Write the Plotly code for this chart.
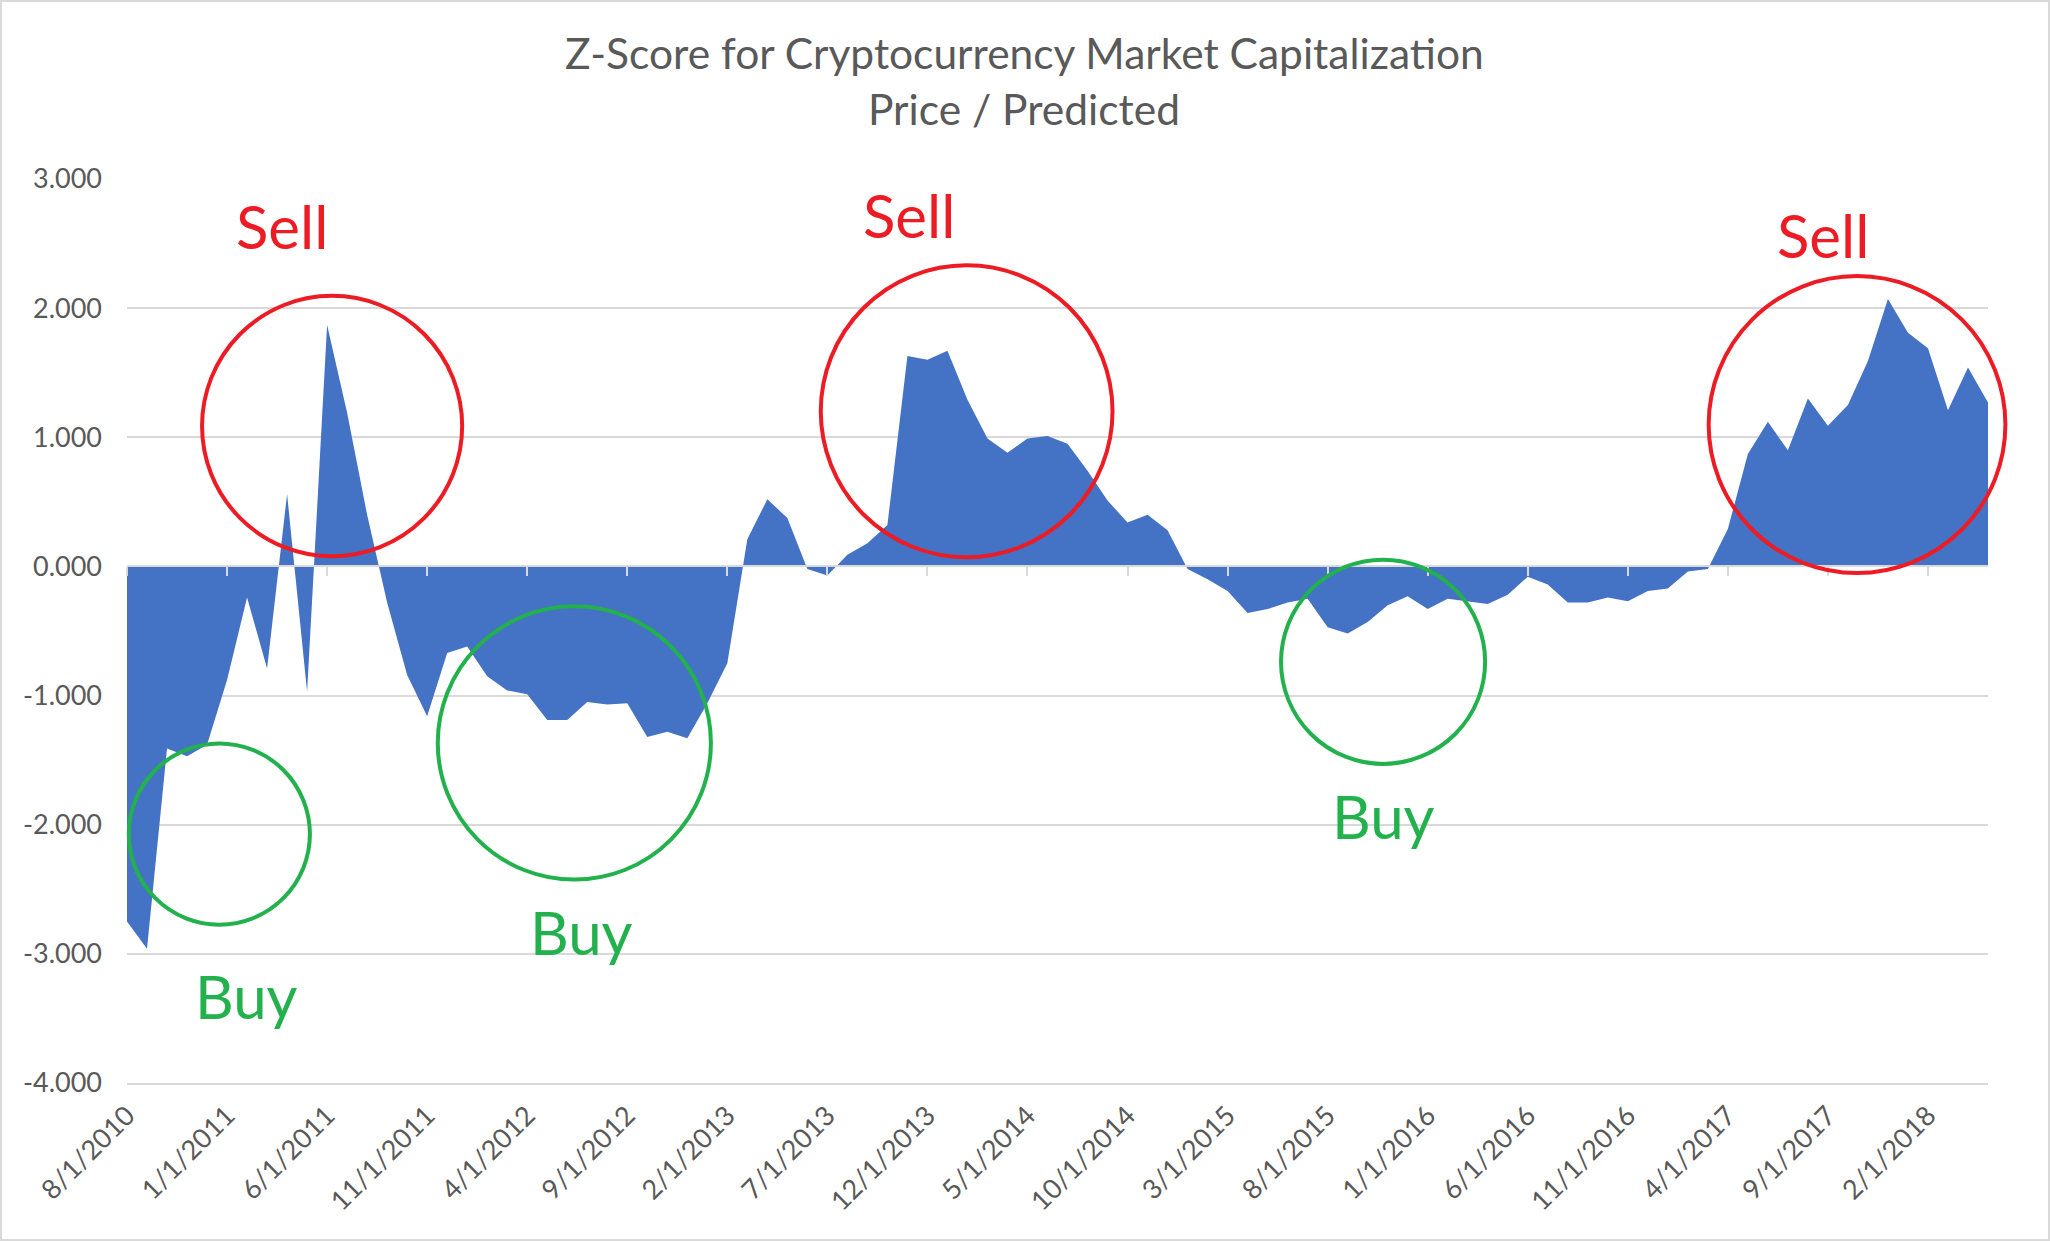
import plotly.graph_objects as go

# ---------------- data ----------------
categories = [f"{(7 + i) % 12 + 1}/1/{2010 + (7 + i) // 12}" for i in range(94)]

zscore = [
    -2.75, -2.96, -1.41, -1.47, -1.38, -0.88, -0.24, -0.79, 0.56, -0.97,
    1.87, 1.19, 0.40, -0.28, -0.84, -1.16, -0.67, -0.62, -0.85, -0.96,
    -0.99, -1.19, -1.19, -1.05, -1.07, -1.06, -1.32, -1.28, -1.33, -1.06,
    -0.75, 0.21, 0.52, 0.375, -0.02, -0.07, 0.09, 0.18, 0.32, 1.63,
    1.60, 1.67, 1.29, 0.99, 0.88, 0.99, 1.01, 0.95, 0.74, 0.51,
    0.34, 0.40, 0.28, -0.02, -0.10, -0.19, -0.36, -0.33, -0.28, -0.25,
    -0.47, -0.52, -0.43, -0.30, -0.23, -0.33, -0.25, -0.27, -0.29, -0.22,
    -0.08, -0.14, -0.28, -0.28, -0.24, -0.27, -0.19, -0.17, -0.04, -0.02,
    0.29, 0.87, 1.12, 0.90, 1.30, 1.09, 1.25, 1.59, 2.07, 1.81,
    1.69, 1.21, 1.54, 1.27,
]

x_tick_labels = categories[::5]
y_tick_vals = [-4, -3, -2, -1, 0, 1, 2, 3]
y_tick_text = ["-4.000", "-3.000", "-2.000", "-1.000", "0.000", "1.000", "2.000", "3.000"]

title_line1 = "Z-Score for Cryptocurrency Market Capitalization"
title_line2 = "Price / Predicted"

# signal annotations: text, category index, value
signal_text = ["Sell", "Sell", "Sell", "Buy", "Buy", "Buy"]
signal_x = [7.77, 39.07, 84.77, 5.97, 22.69, 62.8]
signal_y = [2.633, 2.718, 2.563, -3.33, -2.829, -1.93]

# circles (category index / value extents)
circle_x0 = [3.75, 34.67, 79.04, 0.09, 15.53, 57.67]
circle_x1 = [16.75, 49.25, 93.87, 9.14, 29.18, 67.87]
circle_y0 = [0.079, 0.071, -0.051, -2.774, -2.425, -1.529]
circle_y1 = [2.095, 2.332, 2.248, -1.371, -0.309, 0.052]

RED = "#ED1C24"
GREEN = "#22B14C"
signal_color = [RED, RED, RED, GREEN, GREEN, GREEN]

# ---------------- layout constants ----------------
W, H = 2050, 1241
ML, MR, MT, MB = 127, 62, 179, 158
PW, PH = W - ML - MR, H - MT - MB
YMIN, YMAX = -4, 3
XMAX = len(categories) - 1
FONT = "Lato, Carlito, Calibri, sans-serif"
TXT = "#595959"
GRID = "#D9D9D9"

def px_to_paper_x(px):
    return (px - ML) / PW

def px_to_paper_y(py):
    return (H - MB - py) / PH

fig = go.Figure()
fig.add_trace(go.Scatter(
    x=categories, y=zscore, mode="lines", fill="tozeroy",
    line=dict(width=0, color="#4472C4"), fillcolor="#4472C4",
    hoverinfo="x+y", showlegend=False,
))
# invisible trace to carry the zero-line category axis with tick marks
fig.add_trace(go.Scatter(
    x=categories, y=zscore, xaxis="x2", mode="lines",
    line=dict(width=0), opacity=0, hoverinfo="skip", showlegend=False,
))

shapes = []
for x0, x1, y0, y1, c in zip(circle_x0, circle_x1, circle_y0, circle_y1, signal_color):
    shapes.append(dict(
        type="circle", xref="paper", yref="paper",
        x0=x0 / XMAX, x1=x1 / XMAX,
        y0=(y0 - YMIN) / (YMAX - YMIN), y1=(y1 - YMIN) / (YMAX - YMIN),
        line=dict(color=c, width=4), layer="above",
    ))
# chart border
shapes.append(dict(
    type="rect", xref="paper", yref="paper",
    x0=px_to_paper_x(1), x1=px_to_paper_x(W - 1),
    y0=px_to_paper_y(H - 1), y1=px_to_paper_y(1),
    line=dict(color=GRID, width=2), layer="below",
))

annotations = []
for t, x, y, c in zip(signal_text, signal_x, signal_y, signal_color):
    annotations.append(dict(
        text=t, x=x, y=y, xref="x", yref="y", showarrow=False,
        xanchor="center", yanchor="middle",
        font=dict(family=FONT, size=60, color=c),
    ))
annotations.append(dict(
    text=title_line1, x=px_to_paper_x(1024), y=px_to_paper_y(52), xref="paper", yref="paper",
    showarrow=False, xanchor="center", yanchor="middle",
    font=dict(family=FONT, size=42.5, color=TXT),
))
annotations.append(dict(
    text=title_line2, x=px_to_paper_x(1024), y=px_to_paper_y(109), xref="paper", yref="paper",
    showarrow=False, xanchor="center", yanchor="middle",
    font=dict(family=FONT, size=42.5, color=TXT),
))

fig.update_layout(
    width=W, height=H,
    margin=dict(l=ML, r=MR, t=MT, b=MB, pad=0),
    paper_bgcolor="white", plot_bgcolor="white",
    showlegend=False,
    xaxis=dict(
        type="category", range=[0, XMAX],
        tickmode="array", tickvals=x_tick_labels, ticktext=x_tick_labels,
        tickangle=-45, showgrid=False, zeroline=False, ticks="",
        showline=True, linecolor=GRID, linewidth=2,
        ticklabelstandoff=4,
        tickfont=dict(family=FONT, size=27, color=TXT),
    ),
    xaxis2=dict(
        type="category", range=[0, XMAX], overlaying="x", anchor="free",
        position=(0 - YMIN) / (YMAX - YMIN),
        tickmode="array", tickvals=x_tick_labels,
        showticklabels=False, showgrid=False, zeroline=False,
        ticks="outside", ticklen=9, tickwidth=2, tickcolor=GRID,
        showline=True, linecolor=GRID, linewidth=2, layer="above traces",
    ),
    yaxis=dict(
        range=[YMIN, YMAX], tickmode="array", tickvals=y_tick_vals, ticktext=y_tick_text,
        showgrid=True, gridcolor=GRID, gridwidth=2, zeroline=False, showline=False,
        ticks="", ticklabelstandoff=24,
        tickfont=dict(family=FONT, size=27, color=TXT),
    ),
    shapes=shapes,
    annotations=annotations,
)

fig.write_html(
    "out.html",
    config={"displayModeBar": False},
    post_script="document.body.style.margin='0px';",
)
